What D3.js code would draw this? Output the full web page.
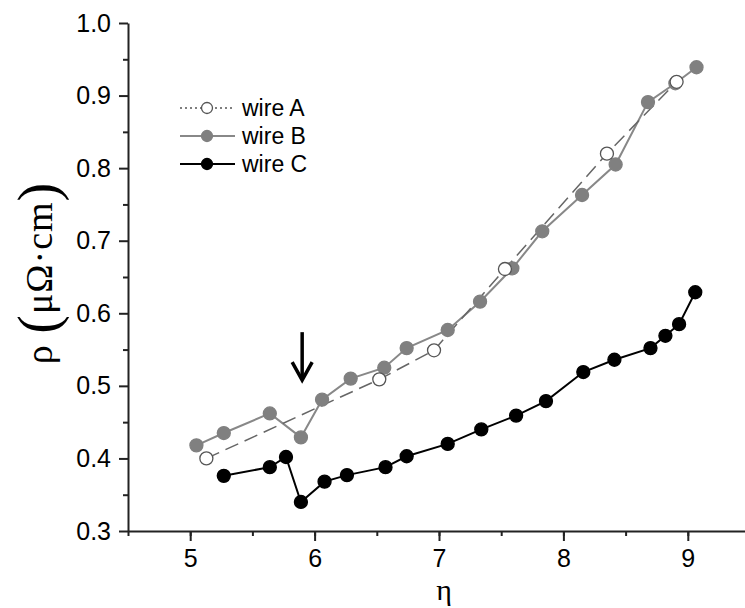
<!DOCTYPE html>
<html>
<head>
<meta charset="utf-8">
<script src="https://cdn.jsdelivr.net/npm/d3@7"></script>
<style>
  body { margin: 0; background: #fff; }
  svg { display: block; font-family: Arial, "Liberation Sans", sans-serif; }
  .axis path, .axis line { stroke: #222; stroke-width: 2; }
  .axis text { font-size: 25px; fill: #000; }
  .title { font-family: "Times New Roman", "Liberation Serif", serif; }
</style>
</head>
<body>
<div id="chart"></div>
<script>
// Daten
const wireA_x = [5.13, 6.52, 6.96, 7.53, 8.35, 8.91];
const wireA_y = [0.400, 0.509, 0.549, 0.661, 0.820, 0.919];

const wireB_x = [5.05, 5.27, 5.64, 5.89, 6.06, 6.29, 6.56, 6.74, 7.07, 7.33, 7.59, 7.83, 8.15, 8.42, 8.68, 8.90, 9.07];
const wireB_y = [0.418, 0.435, 0.462, 0.429, 0.481, 0.510, 0.525, 0.552, 0.577, 0.616, 0.662, 0.713, 0.763, 0.805, 0.891, 0.917, 0.939];

const wireC_x = [5.27, 5.64, 5.77, 5.89, 6.08, 6.26, 6.57, 6.74, 7.07, 7.34, 7.62, 7.86, 8.16, 8.41, 8.70, 8.82, 8.93, 9.06];
const wireC_y = [0.376, 0.388, 0.402, 0.340, 0.368, 0.377, 0.388, 0.403, 0.420, 0.440, 0.459, 0.479, 0.519, 0.536, 0.552, 0.569, 0.585, 0.629];

const xTicks = [5, 6, 7, 8, 9];
const yTicks = [0.3, 0.4, 0.5, 0.6, 0.7, 0.8, 0.9, 1.0];
const legendLabels = ["wire A", "wire B", "wire C"];

// Pfeil-Markierung
const arrowX = 5.9;
const arrowY = [0.574, 0.508];

const width = 745;
const height = 608;
const margin = {top: 23, right: -5, bottom: 77, left: 128};

const svg = d3.select("#chart")
    .append("svg")
    .attr("width", width)
    .attr("height", height);

const x = d3.scaleLinear()
    .domain([4.5, 9.5])
    .range([margin.left, width - margin.right]);

const y = d3.scaleLinear()
    .domain([0.3, 1.0])
    .range([height - margin.bottom, margin.top]);

// Nebenteilstriche
svg.append("g")
    .attr("class", "axis")
    .attr("transform", `translate(0,${height - margin.bottom})`)
    .call(d3.axisBottom(x).tickValues(d3.range(4.5, 9.6, 0.5)).tickSize(5).tickFormat(""))
    .select(".domain").remove();

svg.append("g")
    .attr("class", "axis")
    .attr("transform", `translate(${margin.left},0)`)
    .call(d3.axisLeft(y).tickValues(d3.range(0.35, 1.0, 0.1)).tickSize(5).tickFormat(""))
    .select(".domain").remove();

// Hauptachsen
svg.append("g")
    .attr("class", "axis")
    .attr("transform", `translate(0,${height - margin.bottom})`)
    .call(d3.axisBottom(x).tickValues(xTicks).tickSize(10).tickSizeOuter(0).tickPadding(8).tickFormat(d3.format("d")));

svg.append("g")
    .attr("class", "axis")
    .attr("transform", `translate(${margin.left},0)`)
    .call(d3.axisLeft(y).tickValues(yTicks).tickSize(9).tickSizeOuter(0).tickPadding(8).tickFormat(d3.format(".1f")));

// Achsentitel
svg.append("text")
    .attr("class", "title")
    .attr("x", 444)
    .attr("y", 600)
    .attr("text-anchor", "middle")
    .style("font-size", "30px")
    .text("η");

const yTitle = svg.append("text")
    .attr("class", "title")
    .attr("transform", "translate(52,273) rotate(-90)")
    .attr("text-anchor", "middle")
    .style("font-size", "38px")
    .style("letter-spacing", "1px");
yTitle.append("tspan").text("ρ ");
yTitle.append("tspan").style("font-size", "56px").attr("dy", 5).text("(");
yTitle.append("tspan").attr("dy", -5).text("μΩ·cm");
yTitle.append("tspan").style("font-size", "56px").attr("dy", 5).text(")");

const line = d3.line()
    .x(d => x(d[0]))
    .y(d => y(d[1]));

const series = [
    {name: legendLabels[0], pts: d3.zip(wireA_x, wireA_y), stroke: "#666", dash: "14,7", fill: "#fff", mstroke: "#555", lw: 1.5},
    {name: legendLabels[1], pts: d3.zip(wireB_x, wireB_y), stroke: "#888", dash: null, fill: "#808080", mstroke: "#808080", lw: 2},
    {name: legendLabels[2], pts: d3.zip(wireC_x, wireC_y), stroke: "#000", dash: null, fill: "#000", mstroke: "#000", lw: 2}
];

// Reihenfolge: B unten, A, dann C
[series[1], series[0], series[2]].forEach(s => {
    svg.append("path")
        .datum(s.pts)
        .attr("d", line)
        .attr("fill", "none")
        .attr("stroke", s.stroke)
        .attr("stroke-width", s.lw)
        .attr("stroke-dasharray", s.dash);
});

[series[1], series[0], series[2]].forEach(s => {
    svg.append("g")
        .selectAll("circle")
        .data(s.pts)
        .join("circle")
        .attr("cx", d => x(d[0]))
        .attr("cy", d => y(d[1]))
        .attr("r", 6.5)
        .attr("fill", s.fill)
        .attr("stroke", s.mstroke)
        .attr("stroke-width", 1.3);
});

// Pfeil
const ax = x(arrowX);
svg.append("line")
    .attr("x1", ax).attr("x2", ax)
    .attr("y1", y(arrowY[0])).attr("y2", y(arrowY[1]) - 3)
    .attr("stroke", "#000")
    .attr("stroke-width", 3.5);
svg.append("path")
    .attr("d", `M${ax - 10},${y(arrowY[1]) - 18} L${ax},${y(arrowY[1])} L${ax + 10},${y(arrowY[1]) - 18}`)
    .attr("fill", "none")
    .attr("stroke", "#000")
    .attr("stroke-width", 3.5);

// Legende
const legend = svg.append("g").attr("transform", "translate(180,108)");
series.forEach((s, i) => {
    const row = legend.append("g").attr("transform", `translate(0,${i * 28})`);
    row.append("line")
        .attr("x1", 0).attr("x2", 55)
        .attr("stroke", i === 0 ? "#555" : s.stroke)
        .attr("stroke-width", s.lw)
        .attr("stroke-dasharray", i === 0 ? "2,3" : null);
    row.append("circle")
        .attr("cx", 27).attr("r", 5.5)
        .attr("fill", i === 0 ? "#fff" : s.fill)
        .attr("stroke", s.mstroke)
        .attr("stroke-width", 1.3);
    row.append("text")
        .attr("x", 62).attr("y", 8)
        .style("font-size", "23px")
        .text(s.name);
});
</script>
</body>
</html>
